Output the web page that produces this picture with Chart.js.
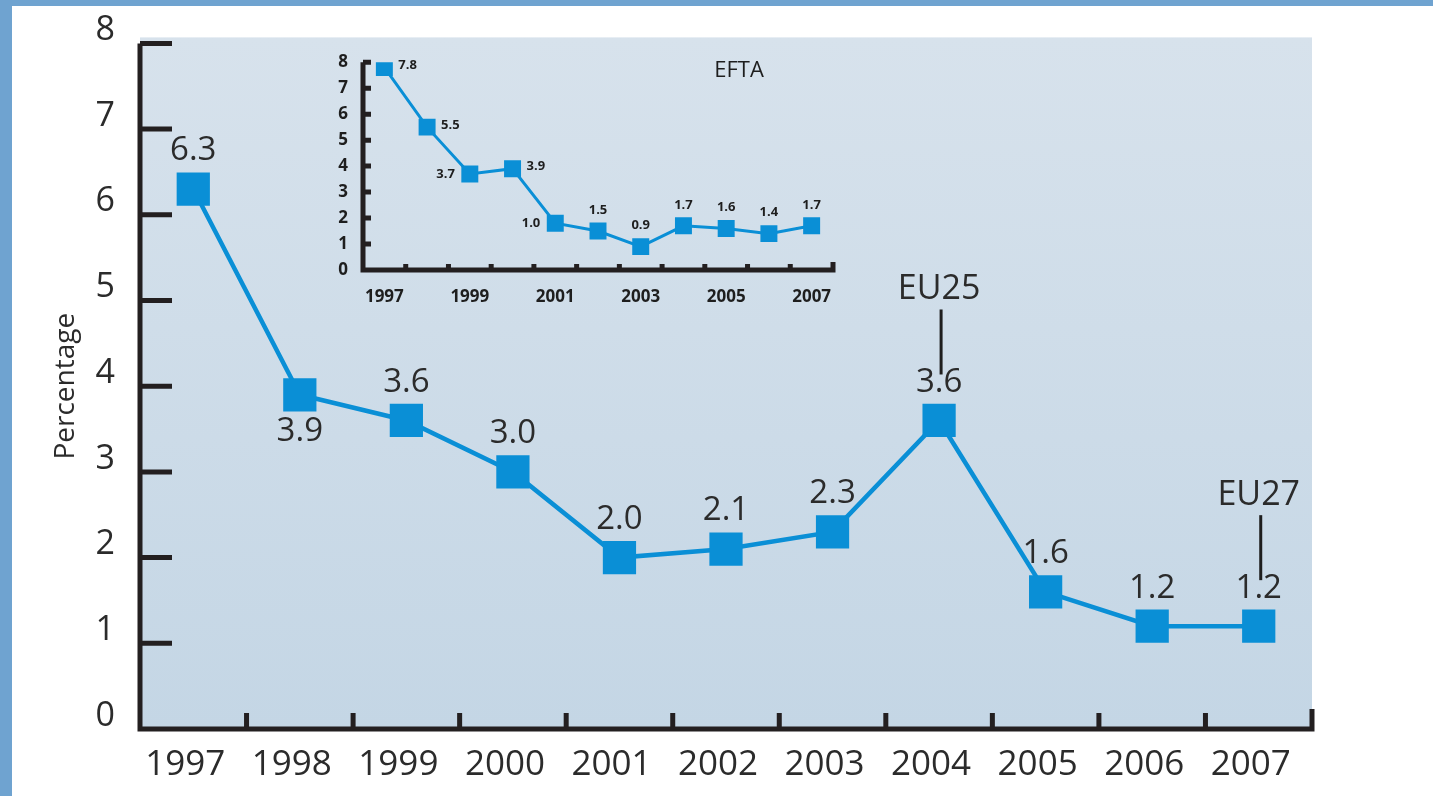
<!DOCTYPE html>
<html>
<head>
<meta charset="utf-8">
<title>Percentage chart</title>
<script src="https://cdn.jsdelivr.net/npm/chart.js@4.4.1/dist/chart.umd.min.js"></script>
<style>
  body { margin: 0; width: 1433px; height: 796px; overflow: hidden; background: #6fa3d0; position: relative; }
  #main { position: absolute; left: 12px; top: 6px; width: 1421px; height: 790px; background: #fff; }
  #inset { position: absolute; left: 330px; top: 45px; width: 520px; height: 265px; }
</style>
</head>
<body>
<div id="main"><canvas id="mainChart"></canvas></div>
<div id="inset"><canvas id="insetChart"></canvas></div>
<script>
'use strict';

let years = ['1997', '1998', '1999', '2000', '2001', '2002', '2003', '2004', '2005', '2006', '2007'];
let euValues = [6.3, 3.9, 3.6, 3.0, 2.0, 2.1, 2.3, 3.6, 1.6, 1.2, 1.2];
let euNotes = ['', '', '', '', '', '', '', 'EU25', '', '', 'EU27'];
let yTicks = [0, 1, 2, 3, 4, 5, 6, 7, 8];

let eftaValues = [7.8, 5.5, 3.7, 3.9, 1.8, 1.5, 0.9, 1.7, 1.6, 1.4, 1.7];
let eftaLabels = ['7.8', '5.5', '3.7', '3.9', '1.0', '1.5', '0.9', '1.7', '1.6', '1.4', '1.7'];

let blue = '#0a8fd6';
let ink = '#2b2b2b';
let fontName = '"Open Sans", "DejaVu Sans", sans-serif';

// where each value label sits next to its marker
let euSide = ['top', 'bottom', 'top', 'top', 'top', 'top', 'top', 'top', 'top', 'top', 'top'];
let eftaSide = ['right', 'right', 'left', 'right', 'left', 'top', 'top', 'top', 'top', 'top', 'top'];

function drawFrame(chart, lw, yStub, xStub, endStub) {
    let ctx = chart.ctx;
    let a = chart.chartArea;
    let x = chart.scales.x;
    let y = chart.scales.y;
    ctx.save();
    ctx.strokeStyle = '#231f20';
    ctx.lineWidth = lw;
    ctx.lineJoin = 'miter';
    ctx.beginPath();
    ctx.moveTo(a.left, a.top);
    ctx.lineTo(a.left, a.bottom);
    ctx.lineTo(a.right, a.bottom);
    ctx.lineTo(a.right, a.bottom - endStub);
    for (let i = 1; i < yTicks.length; i++) {
        let py = y.getPixelForValue(yTicks[i]);
        ctx.moveTo(a.left, py);
        ctx.lineTo(a.left + yStub, py);
    }
    for (let i = 1; i < years.length; i++) {
        let px = (x.getPixelForValue(i - 1) + x.getPixelForValue(i)) / 2;
        ctx.moveTo(px, a.bottom);
        ctx.lineTo(px, a.bottom - xStub);
    }
    ctx.stroke();
    ctx.restore();
}

let mainFrame = {
    id: 'mainFrame',
    beforeDraw(chart) {
        let ctx = chart.ctx;
        let a = chart.chartArea;
        let g = ctx.createLinearGradient(0, a.top - 6, 0, a.bottom);
        g.addColorStop(0, '#d7e2ec');
        g.addColorStop(1, '#c4d6e5');
        ctx.fillStyle = g;
        ctx.fillRect(a.left, a.top - 6, a.right - a.left, a.bottom - a.top + 6);
    },
    afterDraw(chart) {
        drawFrame(chart, 5, 32, 16, 20);
    }
};

let mainLabels = {
    id: 'mainLabels',
    afterDatasetsDraw(chart) {
        let ctx = chart.ctx;
        let points = chart.getDatasetMeta(0).data;
        ctx.save();
        ctx.fillStyle = ink;
        ctx.strokeStyle = '#1e1e1e';
        ctx.textAlign = 'center';
        ctx.textBaseline = 'middle';
        for (let i = 0; i < points.length; i++) {
            let p = points[i];
            let dy = euSide[i] === 'bottom' ? 37 : -38;
            ctx.font = '33px ' + fontName;
            ctx.fillText(euValues[i].toFixed(1), p.x, p.y + dy);
            if (euNotes[i]) {
                ctx.font = '34px ' + fontName;
                ctx.fillText(euNotes[i], p.x, p.y - 131);
                ctx.lineWidth = 3;
                ctx.beginPath();
                ctx.moveTo(p.x + 2, p.y - 111);
                ctx.lineTo(p.x + 2, p.y - 46);
                ctx.stroke();
            }
        }
        ctx.restore();
    }
};

let insetFrame = {
    id: 'insetFrame',
    afterDraw(chart) {
        drawFrame(chart, 5, 8, 6, 8);
        let ctx = chart.ctx;
        let a = chart.chartArea;
        ctx.save();
        ctx.fillStyle = '#1e1e1e';
        ctx.font = '22px ' + fontName;
        ctx.textAlign = 'center';
        ctx.textBaseline = 'middle';
        ctx.fillText('EFTA', a.left + (a.right - a.left) * 0.8, a.top + 9);
        ctx.restore();
    }
};

let insetLabels = {
    id: 'insetLabels',
    afterDatasetsDraw(chart) {
        let ctx = chart.ctx;
        let points = chart.getDatasetMeta(0).data;
        ctx.save();
        ctx.fillStyle = '#1e1e1e';
        ctx.font = 'bold 13px ' + fontName;
        ctx.textBaseline = 'middle';
        for (let i = 0; i < points.length; i++) {
            let p = points[i];
            if (eftaSide[i] === 'right') {
                ctx.textAlign = 'left';
                ctx.fillText(eftaLabels[i], p.x + 14, p.y - 2);
            } else if (eftaSide[i] === 'left') {
                ctx.textAlign = 'right';
                ctx.fillText(eftaLabels[i], p.x - 15, p.y);
            } else {
                ctx.textAlign = 'center';
                ctx.fillText(eftaLabels[i], p.x, p.y - 21);
            }
        }
        ctx.restore();
    }
};

new Chart(document.getElementById('mainChart'), {
    type: 'line',
    data: {
        labels: years,
        datasets: [{
            data: euValues,
            borderColor: blue,
            backgroundColor: blue,
            borderWidth: 4.5,
            pointStyle: 'rect',
            pointRadius: 23.5,
            pointHoverRadius: 23.5,
            pointBorderWidth: 0,
            tension: 0
        }]
    },
    options: {
        responsive: true,
        maintainAspectRatio: false,
        animation: false,
        events: [],
        layout: { padding: { left: 0, right: 121, top: 37, bottom: 0 } },
        plugins: { legend: { display: false }, tooltip: { enabled: false } },
        scales: {
            x: {
                offset: true,
                grid: { display: false },
                border: { display: false },
                ticks: { color: ink, font: { family: fontName, size: 35 }, padding: 7, labelOffset: -8, maxRotation: 0, autoSkip: false },
                afterFit(scale) { scale.height = 67; }
            },
            y: {
                min: 0,
                max: 8,
                grid: { display: false },
                border: { display: false },
                ticks: { stepSize: 1, color: ink, font: { family: fontName, size: 34 }, padding: 17, labelOffset: -13 },
                title: { display: true, text: 'Percentage', color: ink, font: { family: fontName, size: 28 }, padding: { top: 37, bottom: 0 } },
                afterFit(scale) { scale.width = 128; }
            }
        }
    },
    plugins: [mainFrame, mainLabels]
});

new Chart(document.getElementById('insetChart'), {
    type: 'line',
    data: {
        labels: years,
        datasets: [{
            data: eftaValues,
            borderColor: blue,
            backgroundColor: blue,
            borderWidth: 3,
            pointStyle: 'rect',
            pointRadius: 12,
            pointHoverRadius: 12,
            pointBorderWidth: 0,
            tension: 0
        }]
    },
    options: {
        responsive: true,
        maintainAspectRatio: false,
        animation: false,
        events: [],
        layout: { padding: { left: 0, right: 17, top: 15, bottom: 0 } },
        plugins: { legend: { display: false }, tooltip: { enabled: false } },
        scales: {
            x: {
                offset: true,
                grid: { display: false },
                border: { display: false },
                ticks: {
                    color: '#1e1e1e',
                    font: { family: fontName, size: 17, weight: 'bold' },
                    padding: 9,
                    maxRotation: 0,
                    autoSkip: false,
                    callback: function (value, index) { return index % 2 === 0 ? years[index] : ''; }
                },
                afterFit(scale) { scale.height = 40; }
            },
            y: {
                min: 0,
                max: 8,
                grid: { display: false },
                border: { display: false },
                ticks: { stepSize: 1, color: '#1e1e1e', font: { family: fontName, size: 17, weight: 'bold' }, padding: 7 },
                afterFit(scale) { scale.width = 33; }
            }
        }
    },
    plugins: [insetFrame, insetLabels]
});
</script>
</body>
</html>
